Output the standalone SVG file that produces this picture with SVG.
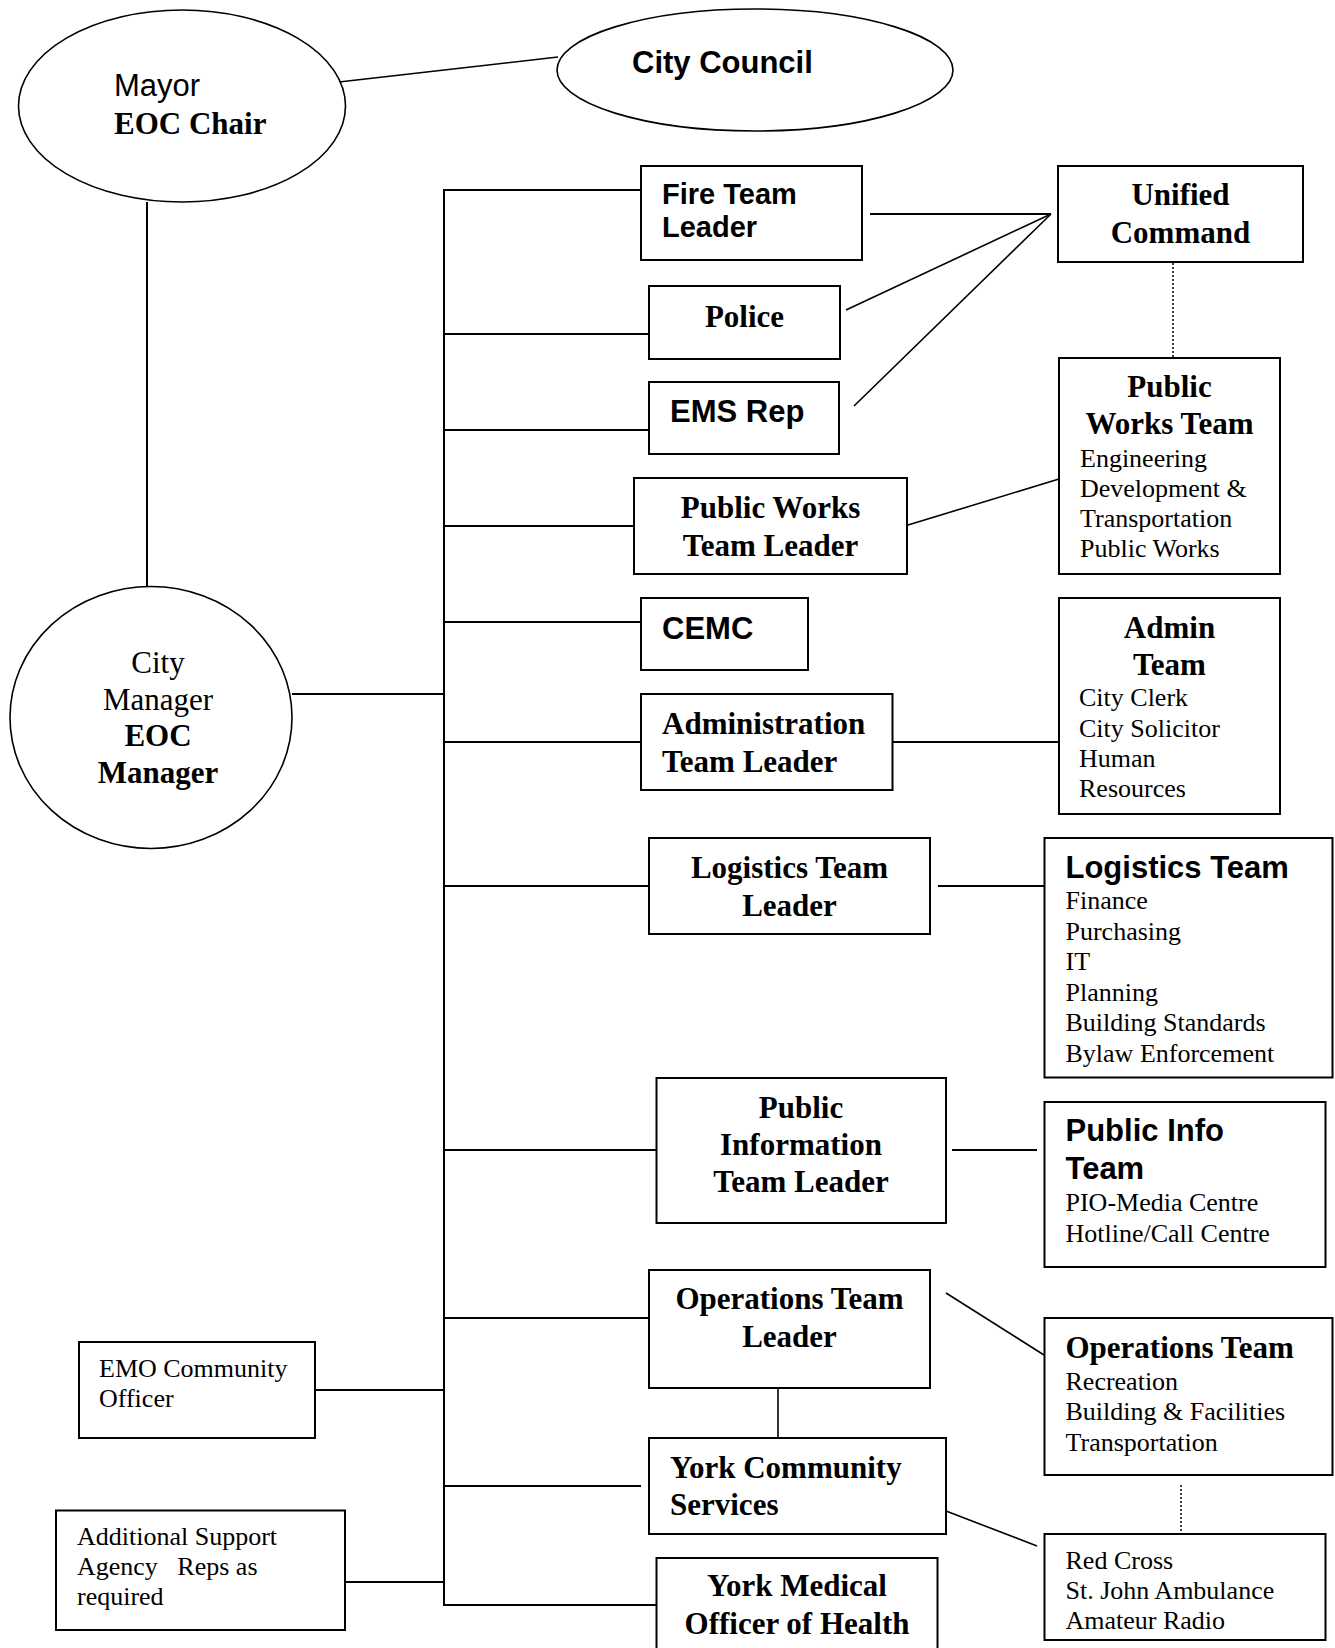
<svg xmlns="http://www.w3.org/2000/svg" width="1335" height="1648" viewBox="0 0 1335 1648">
<style>
.box{fill:#fff;stroke:#000;stroke-width:2}
.ell{fill:#fff;stroke:#000;stroke-width:1.6}
.ln{stroke:#000;stroke-width:2;fill:none}
.thin{stroke:#000;stroke-width:1.6;fill:none}
.dot{stroke:#000;stroke-width:1.5;stroke-dasharray:2 2;fill:none}
.tb{font-family:"Liberation Serif","Times New Roman",serif;font-weight:bold;font-size:31px}
.tr{font-family:"Liberation Serif","Times New Roman",serif;font-size:26px}
.trl{font-family:"Liberation Serif","Times New Roman",serif;font-size:31px}
.ab{font-family:"Liberation Sans",Arial,sans-serif;font-weight:bold;font-size:31px}
.ar{font-family:"Liberation Sans",Arial,sans-serif;font-size:31px}
.c{text-anchor:middle}
</style>
<rect width="1335" height="1648" fill="#fff"/>
<g id="connectors">
<line class="thin" x1="339" y1="82" x2="558" y2="57"/>
<line class="ln" x1="147" y1="202" x2="147" y2="587"/>
<line class="ln" x1="292" y1="694" x2="444" y2="694"/>
<line class="ln" x1="444" y1="190" x2="444" y2="1606"/>
<line class="ln" x1="443" y1="190" x2="641" y2="190"/>
<line class="ln" x1="444" y1="334" x2="649" y2="334"/>
<line class="ln" x1="444" y1="430" x2="649" y2="430"/>
<line class="ln" x1="444" y1="526" x2="634" y2="526"/>
<line class="ln" x1="444" y1="622" x2="641" y2="622"/>
<line class="ln" x1="444" y1="742" x2="641" y2="742"/>
<line class="ln" x1="444" y1="886" x2="649" y2="886"/>
<line class="ln" x1="444" y1="1150" x2="656" y2="1150"/>
<line class="ln" x1="444" y1="1318" x2="649" y2="1318"/>
<line class="ln" x1="444" y1="1486" x2="641" y2="1486"/>
<line class="ln" x1="443" y1="1605" x2="656" y2="1605"/>
<line class="ln" x1="315" y1="1390" x2="444" y2="1390"/>
<line class="ln" x1="345" y1="1582" x2="444" y2="1582"/>
<line class="ln" x1="870" y1="214" x2="1051" y2="214"/>
<line class="thin" x1="846" y1="310" x2="1051" y2="214"/>
<line class="thin" x1="854" y1="406" x2="1051" y2="214"/>
<line class="dot" x1="1173" y1="263" x2="1173" y2="357"/>
<line class="thin" x1="908" y1="525" x2="1059" y2="479"/>
<line class="ln" x1="892" y1="742" x2="1059" y2="742"/>
<line class="ln" x1="938" y1="886" x2="1044" y2="886"/>
<line class="ln" x1="952" y1="1150" x2="1037" y2="1150"/>
<line class="thin" x1="946" y1="1293" x2="1044" y2="1355"/>
<line class="thin" x1="778" y1="1388" x2="778" y2="1438"/>
<line class="dot" x1="1181" y1="1485" x2="1181" y2="1533"/>
<line class="thin" x1="946" y1="1511" x2="1037" y2="1546"/>
</g>
<g id="mayor">
<ellipse class="ell" cx="182" cy="106" rx="163.5" ry="96"/>
<text class="ar" x="114" y="96">Mayor</text>
<text class="tb" x="114" y="134">EOC Chair</text>
</g>
<g id="city-council">
<ellipse class="ell" cx="755" cy="70" rx="198" ry="61"/>
<text class="ab" x="632" y="73">City Council</text>
</g>
<g id="city-manager">
<ellipse class="ell" cx="151" cy="717.5" rx="141" ry="131"/>
<text class="trl c" x="158" y="673">City</text>
<text class="trl c" x="158" y="709.5">Manager</text>
<text class="tb c" x="158" y="746">EOC</text>
<text class="tb c" x="158" y="782.5">Manager</text>
</g>
<g id="fire">
<rect class="box" x="641" y="166" width="221" height="94"/>
<text class="ab" x="662" y="204" style="font-size:29px">Fire Team</text>
<text class="ab" x="662" y="237" style="font-size:29px">Leader</text>
</g>
<g id="police">
<rect class="box" x="649" y="286" width="191" height="73"/>
<text class="tb c" x="744.5" y="327">Police</text>
</g>
<g id="ems">
<rect class="box" x="649" y="382" width="190" height="72"/>
<text class="ab" x="670" y="422">EMS Rep</text>
</g>
<g id="unified">
<rect class="box" x="1058" y="166" width="245" height="96"/>
<text class="tb c" x="1180.5" y="205">Unified</text>
<text class="tb c" x="1180.5" y="243">Command</text>
</g>
<g id="pw-leader">
<rect class="box" x="634" y="478" width="273" height="96"/>
<text class="tb c" x="770.5" y="518">Public Works</text>
<text class="tb c" x="770.5" y="556">Team Leader</text>
</g>
<g id="pw-team">
<rect class="box" x="1059" y="358" width="221" height="216"/>
<text class="tb c" x="1169.5" y="397">Public</text>
<text class="tb c" x="1169.5" y="434">Works Team</text>
<text class="tr" x="1080" y="467">Engineering</text>
<text class="tr" x="1080" y="497">Development &amp;</text>
<text class="tr" x="1080" y="527">Transportation</text>
<text class="tr" x="1080" y="557">Public Works</text>
</g>
<g id="cemc">
<rect class="box" x="641" y="598" width="167" height="72"/>
<text class="ab" x="662" y="639">CEMC</text>
</g>
<g id="admin-leader">
<rect class="box" x="641" y="694" width="251.5" height="96"/>
<text class="tb" x="662" y="734">Administration</text>
<text class="tb" x="662" y="772">Team Leader</text>
</g>
<g id="admin-team">
<rect class="box" x="1059" y="598" width="221" height="216"/>
<text class="tb c" x="1169.5" y="638">Admin</text>
<text class="tb c" x="1169.5" y="675">Team</text>
<text class="tr" x="1079" y="706">City Clerk</text>
<text class="tr" x="1079" y="737">City Solicitor</text>
<text class="tr" x="1079" y="767">Human</text>
<text class="tr" x="1079" y="797">Resources</text>
</g>
<g id="logistics-leader">
<rect class="box" x="649" y="838" width="281" height="96"/>
<text class="tb c" x="789.5" y="878">Logistics Team</text>
<text class="tb c" x="789.5" y="916">Leader</text>
</g>
<g id="logistics-team">
<rect class="box" x="1044.5" y="838" width="288" height="239.5"/>
<text class="ab" x="1065.5" y="878">Logistics Team</text>
<text class="tr" x="1065.5" y="909">Finance</text>
<text class="tr" x="1065.5" y="940">Purchasing</text>
<text class="tr" x="1065.5" y="970">IT</text>
<text class="tr" x="1065.5" y="1001">Planning</text>
<text class="tr" x="1065.5" y="1031">Building Standards</text>
<text class="tr" x="1065.5" y="1062">Bylaw Enforcement</text>
</g>
<g id="pi-leader">
<rect class="box" x="656.5" y="1078" width="289.5" height="145"/>
<text class="tb c" x="801" y="1118">Public</text>
<text class="tb c" x="801" y="1155">Information</text>
<text class="tb c" x="801" y="1192">Team Leader</text>
</g>
<g id="pi-team">
<rect class="box" x="1044.5" y="1102" width="281" height="165"/>
<text class="ab" x="1065.5" y="1141">Public Info</text>
<text class="ab" x="1065.5" y="1179">Team</text>
<text class="tr" x="1065.5" y="1211">PIO-Media Centre</text>
<text class="tr" x="1065.5" y="1242">Hotline/Call Centre</text>
</g>
<g id="ops-leader">
<rect class="box" x="649" y="1270" width="281" height="118"/>
<text class="tb c" x="789.5" y="1309">Operations Team</text>
<text class="tb c" x="789.5" y="1347">Leader</text>
</g>
<g id="ops-team">
<rect class="box" x="1044.5" y="1318" width="288" height="157"/>
<text class="tb" x="1065.5" y="1358">Operations Team</text>
<text class="tr" x="1065.5" y="1390">Recreation</text>
<text class="tr" x="1065.5" y="1420">Building &amp; Facilities</text>
<text class="tr" x="1065.5" y="1451">Transportation</text>
</g>
<g id="york-community">
<rect class="box" x="649" y="1438" width="297" height="96"/>
<text class="tb" x="670" y="1478">York Community</text>
<text class="tb" x="670" y="1515">Services</text>
</g>
<g id="red-cross">
<rect class="box" x="1044.5" y="1534" width="281" height="106"/>
<text class="tr" x="1065.5" y="1569">Red Cross</text>
<text class="tr" x="1065.5" y="1599">St. John Ambulance</text>
<text class="tr" x="1065.5" y="1629">Amateur Radio</text>
</g>
<g id="york-medical">
<rect class="box" x="656.5" y="1558" width="281" height="110"/>
<text class="tb c" x="797" y="1596">York Medical</text>
<text class="tb c" x="797" y="1634">Officer of Health</text>
</g>
<g id="emo">
<rect class="box" x="79" y="1342" width="236" height="96"/>
<text class="tr" x="99" y="1377">EMO Community</text>
<text class="tr" x="99" y="1407">Officer</text>
</g>
<g id="additional">
<rect class="box" x="56" y="1510.5" width="289" height="119.5"/>
<text class="tr" x="77" y="1545">Additional Support</text>
<text class="tr" x="77" y="1575" xml:space="preserve">Agency   Reps as</text>
<text class="tr" x="77" y="1605">required</text>
</g>
</svg>
